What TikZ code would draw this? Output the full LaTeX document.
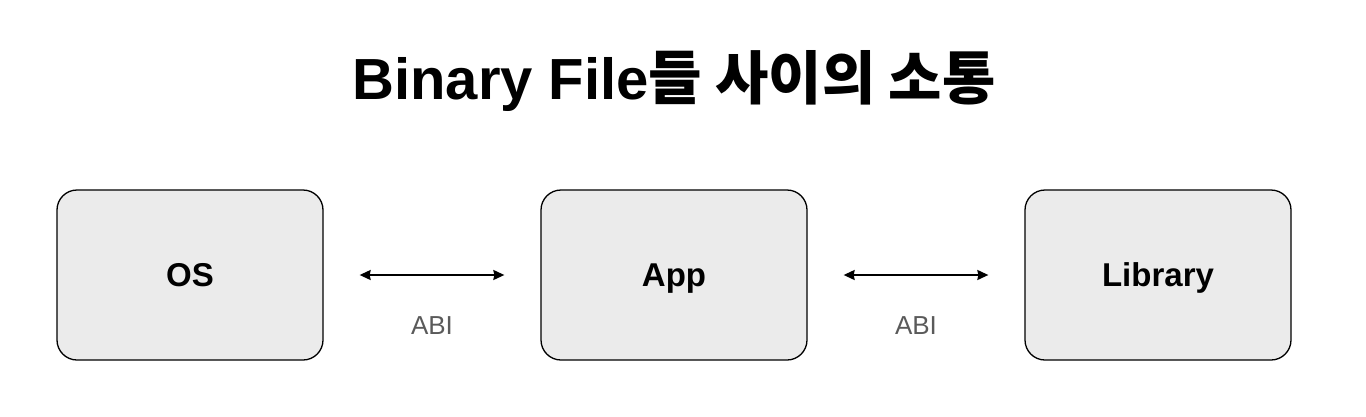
\documentclass[tikz,border=0pt]{standalone}
\usepackage{fontspec}
\setmainfont{Liberation Sans}
\newfontfamily\kr{Noto Sans CJK KR}
\usetikzlibrary{arrows.meta,positioning}
\definecolor{boxgray}{HTML}{EBEBEB}
\definecolor{abigray}{HTML}{5A5A5A}

\begin{document}
\begin{tikzpicture}[x=1pt,y=1pt,<->,>={Stealth[length=11pt,width=10pt,inset=1pt]},line width=1.8pt,node distance=484pt]
	\tikzstyle{binbox}=[draw=black,line width=1.3pt,fill=boxgray,rounded corners=20pt,
			minimum width=266pt,minimum height=170pt,text=black,
			text height=23pt,text depth=0pt,
			font=\fontsize{33}{38}\selectfont\bfseries]
	\tikzstyle{abi}=[text=abigray,yshift=-51pt,font=\fontsize{26}{30}\selectfont]

	\useasboundingbox (0,0) rectangle (1366,-416);

	\node[font=\fontsize{58}{66}\selectfont\bfseries]	(title)	at (674,-81)	{Binary File{\kr 들 사이의 소통}};

	\node[binbox]	(OS)	at (190,-275)	{OS};
	\node[binbox]	(App)	[right of=OS]	{App};
	\node[binbox]	(Lib)	[right of=App]	{Library};

	\path (OS)	edge	[shorten >=36pt,shorten <=36pt]	node[abi] {ABI}	(App)
		(App)	edge	[shorten >=36pt,shorten <=36pt]	node[abi] {ABI}	(Lib);
\end{tikzpicture}
\end{document}
